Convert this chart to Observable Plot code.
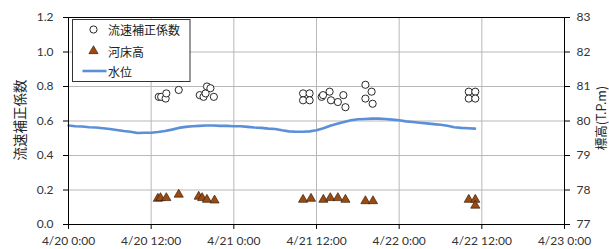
<!DOCTYPE html>
<html>
<head>
<meta charset="utf-8">
<script src="https://cdn.jsdelivr.net/npm/d3@7"></script>
<script src="https://cdn.jsdelivr.net/npm/@observablehq/plot@0.6"></script>
<style>
  html, body { margin: 0; padding: 0; background: #fff; }
  #chart { width: 609px; height: 249px; }
</style>
</head>
<body>
<div id="chart"></div>
<script>
// ---- Data ----
const xTickLabels = ["4/20 0:00", "4/20 12:00", "4/21 0:00", "4/21 12:00", "4/22 0:00", "4/22 12:00", "4/23 0:00"];
const leftTickLabels = ["0.0", "0.2", "0.4", "0.6", "0.8", "1.0", "1.2"];
const rightTickLabels = ["77", "78", "79", "80", "81", "82", "83"];

// 流速補正係数 (left axis)
const coefTime = ["4/20 13:06", "4/20 13:27", "4/20 14:06", "4/20 14:12", "4/20 16:00", "4/20 19:03", "4/20 19:36", "4/20 19:54", "4/20 20:06", "4/20 20:36", "4/20 21:06",
  "4/21 10:03", "4/21 10:03", "4/21 11:00", "4/21 11:00", "4/21 12:45", "4/21 12:57", "4/21 13:54", "4/21 14:06", "4/21 15:06", "4/21 15:54", "4/21 16:12",
  "4/21 19:06", "4/21 20:00", "4/21 19:06", "4/21 20:09",
  "4/22 10:06", "4/22 11:03", "4/22 10:06", "4/22 11:03"];
const coefValue = [0.74, 0.74, 0.73, 0.76, 0.78, 0.75, 0.74, 0.76, 0.80, 0.79, 0.74,
  0.76, 0.72, 0.76, 0.72, 0.74, 0.75, 0.77, 0.72, 0.71, 0.75, 0.68,
  0.81, 0.77, 0.73, 0.70,
  0.77, 0.77, 0.73, 0.73];

// 河床高 (right axis, T.P.m)
const bedTime = ["4/20 12:58", "4/20 13:21", "4/20 14:12", "4/20 16:00", "4/20 18:54", "4/20 19:24", "4/20 20:06", "4/20 21:12",
  "4/21 10:03", "4/21 11:12", "4/21 13:00", "4/21 14:00", "4/21 15:06", "4/21 16:12", "4/21 19:06", "4/21 20:12",
  "4/22 10:06", "4/22 11:03", "4/22 11:03"];
const bedValue = [77.75, 77.77, 77.77, 77.87, 77.81, 77.77, 77.72, 77.70,
  77.72, 77.75, 77.72, 77.77, 77.77, 77.72, 77.68, 77.68,
  77.72, 77.72, 77.55];

// 水位 (right axis, T.P.m), hourly from 4/20 0:00
const levelStart = "4/20 0:00";
const levelValue = [79.87, 79.85, 79.84, 79.82, 79.81, 79.79, 79.77, 79.74, 79.71, 79.69, 79.65, 79.66, 79.66,
  79.68, 79.71, 79.75, 79.80, 79.83, 79.85, 79.86, 79.87, 79.87, 79.86, 79.86, 79.85,
  79.85, 79.83, 79.81, 79.80, 79.78, 79.77, 79.73, 79.70, 79.69, 79.69, 79.70, 79.73,
  79.79, 79.86, 79.92, 79.97, 80.02, 80.05, 80.06, 80.07, 80.07, 80.06, 80.04, 80.02,
  79.99, 79.97, 79.95, 79.93, 79.91, 79.89, 79.86, 79.82, 79.80, 79.79, 79.78];

// ---- Helpers ----
function parseT(s) {
  const [md, hm] = s.split(" ");
  const [m, d] = md.split("/").map(Number);
  const [h, mi] = hm.split(":").map(Number);
  return new Date(Date.UTC(2024, m - 1, d, h, mi));
}
// right axis (77–83) mapped onto left axis (0–1.2)
const toLeft = v => (v - 77) * 0.2;

const xTicks = xTickLabels.map(parseT);
const yTicks = leftTickLabels.map(Number);

const coef = coefTime.map((t, i) => ({t: parseT(t), v: coefValue[i]}));
const bed = bedTime.map((t, i) => ({t: parseT(t), v: toLeft(bedValue[i])}));
const t0 = parseT(levelStart);
const level = levelValue.map((v, i) => ({t: new Date(+t0 + i * 3600e3), v: toLeft(v)}));

const blue = "#5b8fd8";
const brown = "#9c4a10";
const gridColor = "#b8b8b8";
const textColor = "#333";

const chart = Plot.plot({
  width: 609,
  height: 249,
  marginLeft: 68,
  marginRight: 45,
  marginTop: 17,
  marginBottom: 25,
  style: {fontFamily: "Lato, sans-serif", fontSize: "12px", color: textColor, background: "white"},
  x: {type: "utc", domain: [xTicks[0], xTicks[xTicks.length - 1]]},
  y: {domain: [0, 1.2]},
  marks: [
    Plot.gridX(xTicks, {stroke: gridColor, strokeOpacity: 1, strokeWidth: 1}),
    Plot.gridY(yTicks, {stroke: gridColor, strokeOpacity: 1, strokeWidth: 1}),
    Plot.axisX(xTicks, {tickSize: 5, tickPadding: 7, stroke: "black", label: null,
      tickFormat: d => xTickLabels[xTicks.findIndex(t => +t === +d)]}),
    Plot.axisY(yTicks, {anchor: "left", tickSize: 5, tickPadding: 10, stroke: "black", label: null,
      tickFormat: d => leftTickLabels[Math.round(d / 0.2)]}),
    Plot.axisY(yTicks, {anchor: "right", tickSize: 5, tickPadding: 7, stroke: "black", label: null,
      tickFormat: d => rightTickLabels[Math.round(d / 0.2)]}),
    Plot.line(level, {x: "t", y: "v", stroke: blue, strokeWidth: 2.6}),
    Plot.dot(coef, {x: "t", y: "v", r: 3.6, fill: "white", stroke: "#111", strokeWidth: 0.9}),
    Plot.dot(bed, {x: "t", y: "v", symbol: "triangle", r: 3.4, fill: brown, stroke: "#3a230e", strokeWidth: 0.7}),
    Plot.frame({stroke: "black", strokeWidth: 1})
  ]
});

document.getElementById("chart").appendChild(chart);

// ---- Axis titles and legend ----
const svg = d3.select(chart);
const cjk = "'Noto Sans CJK JP', sans-serif";
svg.append("text")
  .attr("transform", "translate(19,120) rotate(-90)")
  .attr("text-anchor", "middle").attr("dominant-baseline", "central")
  .style("font-family", cjk).style("font-size", "13.5px").attr("fill", "#222")
  .text("流速補正係数");
svg.append("text")
  .attr("transform", "translate(600,118) rotate(-90)")
  .attr("text-anchor", "middle").attr("dominant-baseline", "central")
  .style("font-family", cjk).style("font-size", "12.5px").attr("fill", "#222")
  .text("標高(T.P.m)");

const lg = svg.append("g");
lg.append("rect").attr("x", 72.5).attr("y", 19.5).attr("width", 117.5).attr("height", 62)
  .attr("fill", "white").attr("stroke", "#333").attr("stroke-width", 1);
lg.append("circle").attr("cx", 93.5).attr("cy", 29.5).attr("r", 3.6)
  .attr("fill", "white").attr("stroke", "#111").attr("stroke-width", 0.9);
lg.append("path").attr("transform", "translate(93.5,51)")
  .attr("d", d3.symbol(d3.symbolTriangle, Math.PI * 3.4 * 3.4)())
  .attr("fill", brown).attr("stroke", "#3a230e").attr("stroke-width", 0.7);
lg.append("line").attr("x1", 82.5).attr("x2", 106.5).attr("y1", 71).attr("y2", 71)
  .attr("stroke", blue).attr("stroke-width", 2.6);
const items = [["流速補正係数", 29.5], ["河床高", 51], ["水位", 71]];
for (const [label, y] of items) {
  lg.append("text").attr("x", 108).attr("y", y)
    .attr("text-anchor", "start").attr("dominant-baseline", "central")
    .style("font-family", cjk).style("font-size", "12px").attr("fill", "#222").text(label);
}
</script>
</body>
</html>
